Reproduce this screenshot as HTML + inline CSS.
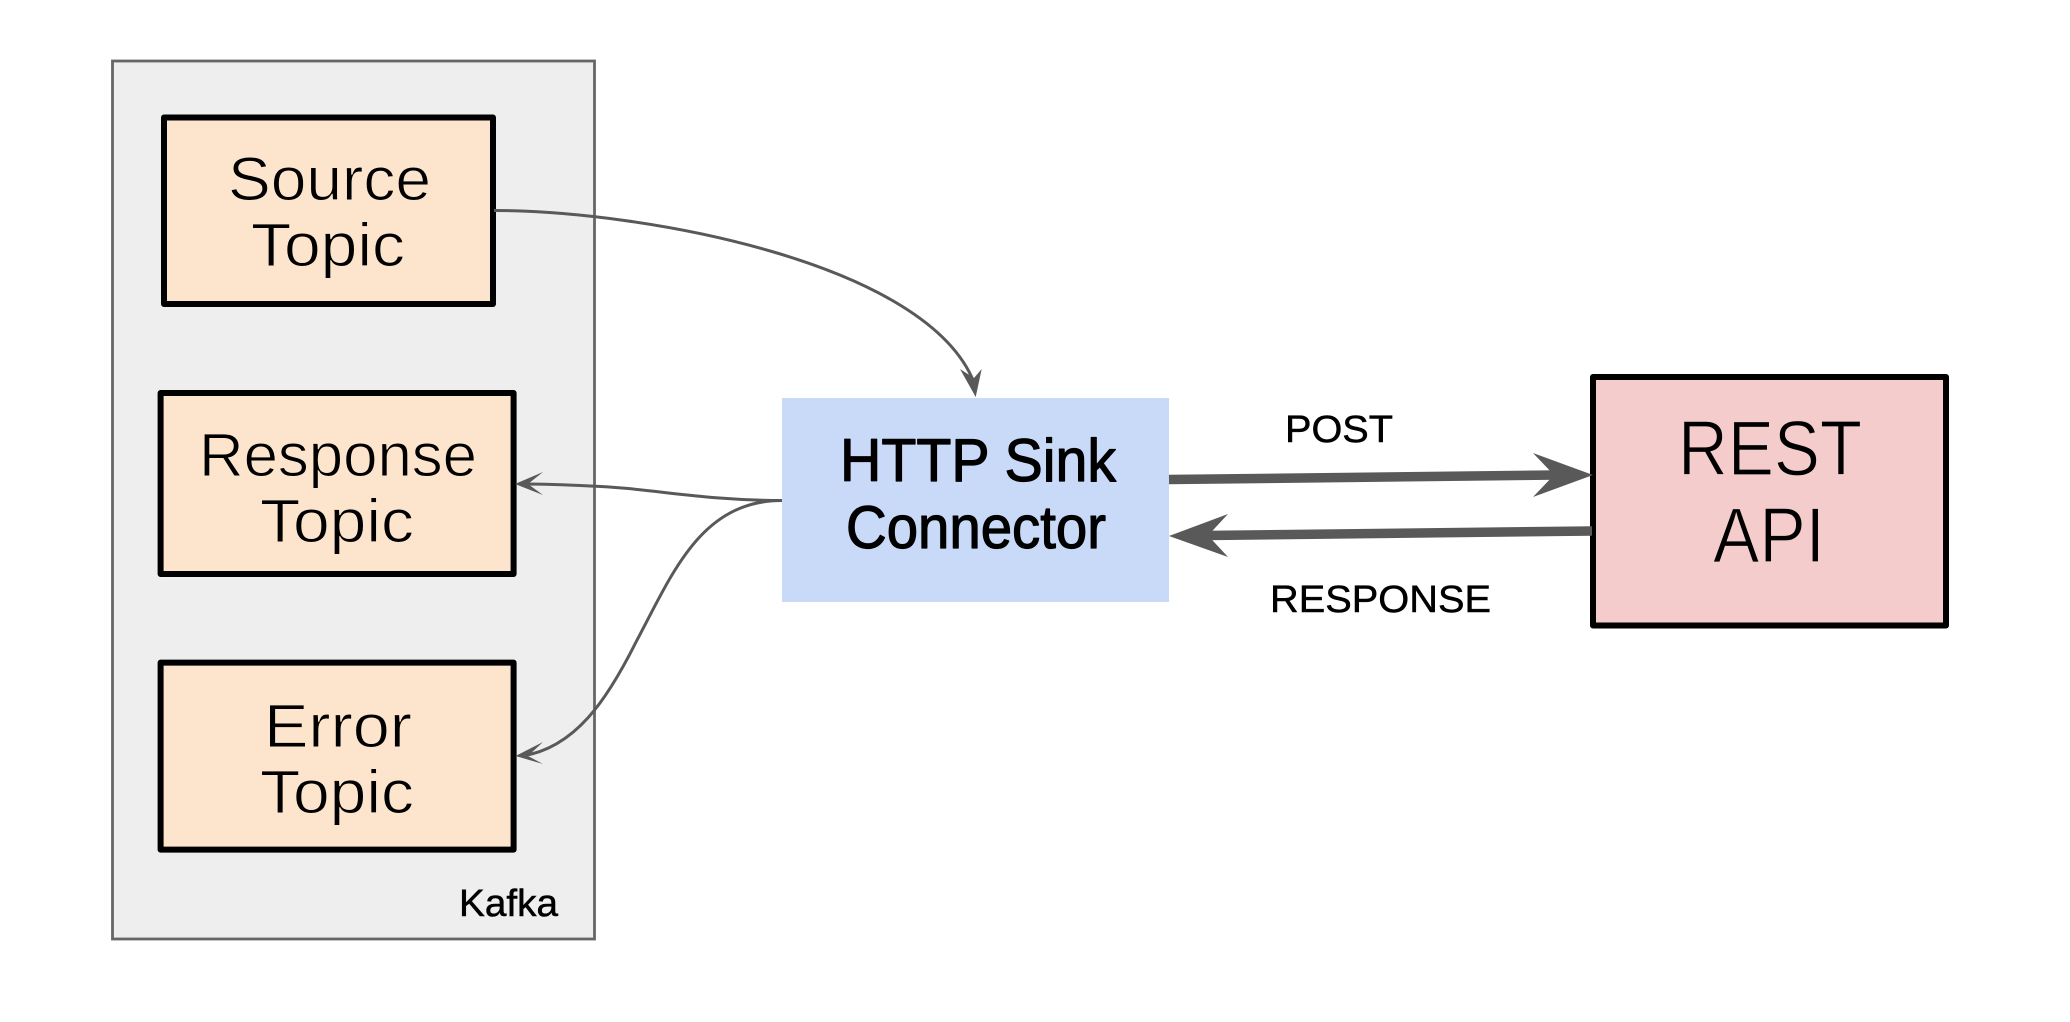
<!DOCTYPE html>
<html>
<head>
<meta charset="utf-8">
<style>
html,body{margin:0;padding:0;background:#fff;width:2070px;height:1022px;overflow:hidden}
svg{display:block}
text{font-family:"Liberation Sans",sans-serif;fill:#000}
.c{stroke:#fde5cd;stroke-width:1;paint-order:fill stroke}
.r{stroke:#f4cccc;stroke-width:1.2;paint-order:fill stroke}
.b{stroke:#000;stroke-width:.5}
.h{stroke:#000;stroke-width:1.2;stroke-linejoin:round}
.line{fill:none;stroke:#595959;stroke-width:3}
.head{fill:#595959;stroke:none}
</style>
</head>
<body>
<svg width="2070" height="1022" viewBox="0 0 2070 1022" xmlns="http://www.w3.org/2000/svg">
<rect width="2070" height="1022" fill="#fff"/>
<rect x="112.5" y="61" width="482" height="878" fill="#eeeeee" stroke="#666666" stroke-width="2.8"/>
<rect x="164" y="117.5" width="329" height="186.5" fill="#fde5cd" stroke="#000" stroke-width="6" stroke-linejoin="round"/>
<rect x="160.6" y="393" width="353" height="181" fill="#fde5cd" stroke="#000" stroke-width="6" stroke-linejoin="round"/>
<rect x="160.6" y="662.6" width="353" height="187" fill="#fde5cd" stroke="#000" stroke-width="6" stroke-linejoin="round"/>
<rect x="782" y="398" width="387" height="204" fill="#c9daf8"/>
<rect x="1593" y="377" width="353" height="248.5" fill="#f4cccc" stroke="#000" stroke-width="6" stroke-linejoin="round"/>

<text class="c" x="228" y="200" font-size="61" textLength="203" lengthAdjust="spacingAndGlyphs">Source</text>
<text class="c" x="251" y="266" font-size="61" textLength="154" lengthAdjust="spacingAndGlyphs">Topic</text>
<text class="c" x="199" y="476" font-size="61" textLength="278" lengthAdjust="spacingAndGlyphs">Response</text>
<text class="c" x="260" y="542" font-size="61" textLength="154" lengthAdjust="spacingAndGlyphs">Topic</text>
<text class="c" x="264" y="747" font-size="61" textLength="148" lengthAdjust="spacingAndGlyphs">Error</text>
<text class="c" x="260" y="813" font-size="61" textLength="154" lengthAdjust="spacingAndGlyphs">Topic</text>
<text class="b" x="459" y="916" font-size="38" textLength="99" lengthAdjust="spacingAndGlyphs">Kafka</text>

<text class="h" x="840" y="481" font-size="60" textLength="276" lengthAdjust="spacingAndGlyphs">HTTP Sink</text>
<text class="h" x="846" y="548" font-size="60" textLength="260" lengthAdjust="spacingAndGlyphs">Connector</text>

<text class="b" x="1285" y="442" font-size="38" textLength="108" lengthAdjust="spacingAndGlyphs">POST</text>
<text class="b" x="1270" y="612" font-size="38" textLength="221" lengthAdjust="spacingAndGlyphs">RESPONSE</text>

<text class="r" x="1678" y="475" font-size="78" textLength="184" lengthAdjust="spacingAndGlyphs">REST</text>
<text class="r" x="1713" y="562" font-size="78" textLength="112" lengthAdjust="spacingAndGlyphs">API</text>

<path class="line" d="M494 210.5 C 640 210.5 930 262 975 385"/>
<polygon class="head" points="975.7,397 960,369 974,378 981.7,369"/>

<path class="line" d="M782 500.5 C 700 500.5 650 488 590 486 C 570 485 545 484 522 484"/>
<polygon class="head" points="515,484 543,472 528,484 543,495"/>

<path class="line" d="M782 500.5 C 700 500.5 672 575 636 642 C 607 700 575 748 522 756"/>
<polygon class="head" points="515.5,756 543,742 528,756 543,764"/>

<line x1="1169" y1="479.5" x2="1556" y2="475" stroke="#595959" stroke-width="9.5"/>
<polygon class="head" points="1593,475 1533,453 1554,475 1533,497"/>
<line x1="1592" y1="531" x2="1206" y2="535.5" stroke="#595959" stroke-width="9.5"/>
<polygon class="head" points="1169,536 1228,514 1208,535.5 1228,557"/>
</svg>
</body>
</html>
